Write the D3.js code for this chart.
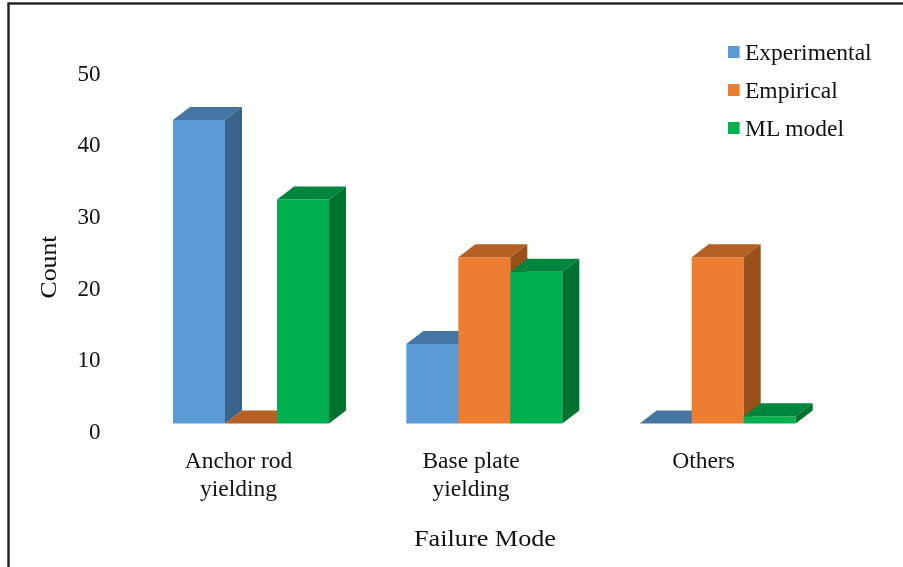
<!DOCTYPE html>
<html><head><meta charset="utf-8">
<script src="https://cdn.jsdelivr.net/npm/d3@7"></script>
<style>html,body{margin:0;padding:0;background:#fff}svg{display:block;filter:blur(0.6px)}text{font-family:"Liberation Serif","Times New Roman",serif;fill:#111}</style>
</head><body><svg id="c" width="903" height="567"></svg>
<script>
const categories = ["Anchor rod|yielding", "Base plate|yielding", "Others"];
const seriesNames = ["Experimental", "Empirical", "ML model"];
const experimental = [43, 12, 0];
const empirical = [0, 24, 24];
const mlModel = [32, 22, 2];
const yTicks = [0, 10, 20, 30, 40, 50];
const frontColors = ["#5b9bd5", "#ed7d31", "#00b050"];
const topColors = ["#4575a3", "#b56024", "#00863c"];
const sideColors = ["#3a6389", "#985119", "#00722f"];

const svg = d3.select("#c");
const series = [experimental, empirical, mlModel];
const baseY = 423.5, dx = 17, dy = 13;
const tickY = d3.scaleLinear().domain([0, 50]).range([431, 73]);
const barY = d3.scaleLinear().domain([0, 50]).range([430.7, 69.4]);
const x0 = d3.scaleBand().domain(categories).range([57, 757]);
const x1 = d3.scaleBand().domain(d3.range(3)).range([116, 272]);
const labelX = d3.scalePoint().domain(categories).range([238.5, 703.5]);

svg.append("rect").attr("x", 8.5).attr("y", 3.5).attr("width", 1000).attr("height", 1000)
  .attr("fill", "#fff").attr("stroke", "#222").attr("stroke-width", 2.4);

const yAxis = d3.axisLeft(tickY).tickValues(yTicks).tickSize(0).tickPadding(0);
const yg = svg.append("g").attr("transform", "translate(100.5,0)").call(yAxis);
yg.select(".domain").remove();
yg.selectAll("text").style("font-size", "23px").style("font-family", '"Liberation Serif"').attr("fill", "#111");

const poly = (pts, fill, g) => g.append("polygon").attr("points", pts.map(p => p.join(",")).join(" ")).attr("fill", fill);
categories.forEach((c, ci) => {
  const g = svg.append("g");
  series.forEach((s, si) => {
    const l = x0(c) + x1(si), r = l + x1.bandwidth();
    const t = Math.min(barY(s[ci]), baseY);
    if (baseY > t) poly([[l, t], [r, t], [r, baseY], [l, baseY]], frontColors[si], g);
    poly([[l, t], [l + dx, t - dy], [r + dx, t - dy], [r, t]], topColors[si], g);
    if (baseY > t) poly([[r, t], [r + dx, t - dy], [r + dx, baseY - dy], [r, baseY]], sideColors[si], g);
  });
  c.split("|").forEach((ln, i) => svg.append("text").attr("x", labelX(c)).attr("y", 468 + i * 27.5)
    .attr("text-anchor", "middle").style("font-size", "23.5px").text(ln));
});

svg.append("text").attr("transform", "translate(56,267) rotate(-90)").attr("text-anchor", "middle")
  .style("font-size", "24px").attr("textLength", 63).attr("lengthAdjust", "spacingAndGlyphs").text("Count");
svg.append("text").attr("x", 485).attr("y", 546).attr("text-anchor", "middle")
  .style("font-size", "24px").attr("textLength", 142).attr("lengthAdjust", "spacingAndGlyphs").text("Failure Mode");

const legY = d3.scalePoint().domain(seriesNames).range([52, 128]);
seriesNames.forEach((n, i) => {
  svg.append("rect").attr("x", 728).attr("y", legY(n) - 6).attr("width", 11.6).attr("height", 12).attr("fill", frontColors[i]);
  svg.append("text").attr("x", 745).attr("y", legY(n) + 7.5).style("font-size", "23.5px").text(n);
});
</script></body></html>
